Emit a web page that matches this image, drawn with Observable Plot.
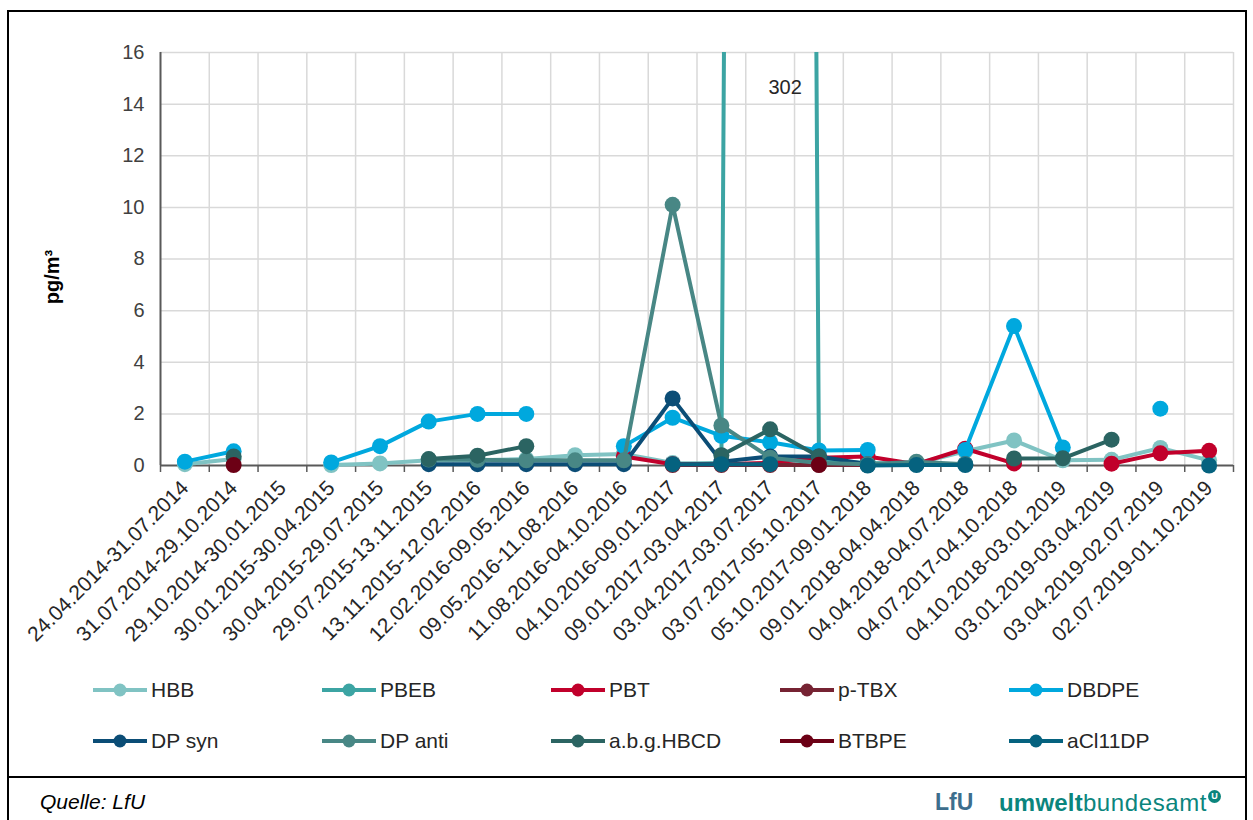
<!DOCTYPE html>
<html>
<head>
<meta charset="utf-8">
<script src="https://cdn.jsdelivr.net/npm/d3@7"></script>
<script src="https://cdn.jsdelivr.net/npm/@observablehq/plot@0.6"></script>
<style>
  html, body { margin: 0; padding: 0; background: #fff; }
  body { font-family: "Liberation Sans", Arial, sans-serif; }
  #wrap { position: relative; width: 1253px; height: 820px; overflow: hidden; }
  #frame { position: absolute; left: 7px; top: 10px; width: 1240px; height: 840px; border: 2px solid #000; box-sizing: border-box; }
  #divider { position: absolute; left: 7px; top: 776px; width: 1240px; height: 2px; background: #000; }
  #chart { position: absolute; left: 0; top: 0; }
  .item { position: absolute; display: flex; align-items: center; font-size: 21px; color: #262626; white-space: nowrap; }
  .item svg { margin-right: 3px; }
  #ylabel { position: absolute; left: 52px; top: 277px; transform: translate(-50%, -50%) rotate(-90deg); font-weight: bold; font-size: 20px; color: #000; white-space: nowrap; }
  #source { position: absolute; left: 40px; top: 790px; font-style: italic; font-size: 21px; color: #000; }
  #lfu { position: absolute; left: 935px; top: 789px; font-weight: bold; font-size: 23px; color: #3d6e8d; }
  #uba { position: absolute; left: 999px; top: 789px; font-size: 24px; color: #0b857d; }
  #uba b { font-weight: bold; letter-spacing: 0.2px; }
  #uba .light { letter-spacing: 0.6px; }
  #uba .logo { display: inline-block; width: 13px; height: 13px; border-radius: 50%; background: #0b857d; color: #fff; font-size: 9px; line-height: 13px; text-align: center; vertical-align: 12px; margin-left: 1px; font-weight: bold; letter-spacing: 0; }
</style>
</head>
<body>
<div id="wrap">
  <div id="frame"></div>
  <div id="divider"></div>
  <div id="chart"></div>
  <div id="ylabel">pg/m³</div>
  <div id="legend"></div>
  <div id="source">Quelle: LfU</div>
  <div id="lfu">LfU</div>
  <div id="uba"><b>umwelt</b><span class="light">bundesamt</span><span class="logo">U</span></div>
</div>
<script>
const categories = [
  "24.04.2014-31.07.2014", "31.07.2014-29.10.2014", "29.10.2014-30.01.2015",
  "30.01.2015-30.04.2015", "30.04.2015-29.07.2015", "29.07.2015-13.11.2015",
  "13.11.2015-12.02.2016", "12.02.2016-09.05.2016", "09.05.2016-11.08.2016",
  "11.08.2016-04.10.2016", "04.10.2016-09.01.2017", "09.01.2017-03.04.2017",
  "03.04.2017-03.07.2017", "03.07.2017-05.10.2017", "05.10.2017-09.01.2018",
  "09.01.2018-04.04.2018", "04.04.2018-04.07.2018", "04.07.2017-04.10.2018",
  "04.10.2018-03.01.2019", "03.01.2019-03.04.2019", "03.04.2019-02.07.2019",
  "02.07.2019-01.10.2019"
];
const n = null;
const hbb     = [0.05, 0.25, n, 0.02, 0.08, 0.2, 0.2, 0.25, 0.4, 0.45, 0.1, 0.05, 0.05, 0.05, 0.03, 0.08, 0.55, 0.97, 0.2, 0.22, 0.68, 0.2];
const pbeb    = [n, n, n, n, n, n, n, n, n, n, 0.05, 0.1, 302, 0.2, 0.1, 0.05, n, n, n, n, n, n];
const pbt     = [n, n, n, n, n, n, n, n, n, 0.35, 0.05, 0.05, 0.1, 0.3, 0.35, 0.05, 0.65, 0.08, n, 0.07, 0.47, 0.57];
const ptbx    = [n, n, n, n, n, n, n, n, n, n, 0.02, 0.02, 0.02, 0.02, 0.02, n, n, n, n, n, n, n];
const dbdpe   = [0.15, 0.55, n, 0.12, 0.75, 1.7, 2.0, 2.0, n, 0.75, 1.85, 1.15, 0.9, 0.58, 0.6, n, 0.6, 5.4, 0.7, n, 2.2, n];
const dpSyn   = [n, n, n, n, n, 0.05, 0.05, 0.05, 0.05, 0.05, 2.6, 0.15, 0.35, 0.35, 0.05, 0.05, 0.05, n, n, n, n, n];
const dpAnti  = [n, n, n, n, n, 0.23, 0.22, 0.2, 0.2, 0.2, 10.1, 1.55, 0.3, 0.1, 0.05, 0.15, 0.05, n, n, n, n, n];
const hbcd    = [n, 0.35, n, n, n, 0.25, 0.38, 0.75, n, n, n, 0.4, 1.4, 0.35, n, n, n, 0.27, 0.28, 1.0, n, n];
const btbpe   = [n, 0.02, n, n, n, n, n, n, n, n, n, n, n, 0.03, n, n, n, n, n, n, n, n];
const acl11dp = [n, n, n, n, n, n, n, n, n, n, 0.05, 0.05, 0.05, n, 0.0, 0.02, 0.02, n, n, n, n, 0.0];

const seriesNames = ["HBB", "PBEB", "PBT", "p-TBX", "DBDPE", "DP syn", "DP anti", "a.b.g.HBCD", "BTBPE", "aCl11DP"];
const seriesValues = [hbb, pbeb, pbt, ptbx, dbdpe, dpSyn, dpAnti, hbcd, btbpe, acl11dp];
const seriesColors = ["#80c3c3", "#3ca4a3", "#c1002b", "#762333", "#00a8de", "#0b4d76", "#488785", "#2b6462", "#6c0015", "#05627f"];
const yTicks = [0, 2, 4, 6, 8, 10, 12, 14, 16];
const yMax = 16;

const font = '"Liberation Sans", Arial, sans-serif';
const idx = d3.range(categories.length);
const boundaries = d3.range(categories.length + 1).map(i => i - 0.5);

const seriesMarks = [];
seriesNames.forEach((name, s) => {
  const data = seriesValues[s].map((v, i) => ({i, v}));
  const color = seriesColors[s];
  const overflow = d3.max(seriesValues[s]) > yMax;
  seriesMarks.push(Plot.line(data, {x: "i", y: "v", stroke: color, strokeWidth: 4, strokeLinejoin: "round", clip: overflow}));
  seriesMarks.push(Plot.dot(data.filter(d => d.v != null && d.v <= yMax), {x: "i", y: "v", r: 8, fill: color, stroke: "none"}));
});

const pbebPeakIndex = d3.maxIndex(pbeb);
const peakLabel = [{i: pbebPeakIndex, v: pbeb[pbebPeakIndex]}];

const chart = Plot.plot({
  width: 1253,
  height: 660,
  marginLeft: 160,
  marginRight: 20,
  marginTop: 52,
  marginBottom: 195,
  style: {fontFamily: font, background: "transparent", overflow: "visible"},
  x: {type: "linear", domain: [-0.5, categories.length - 0.5], label: null},
  y: {domain: [0, yMax], label: null},
  marks: [
    Plot.ruleY(yTicks.filter(t => t > 0), {stroke: "#d9d9d9", strokeWidth: 1.5}),
    Plot.ruleX(boundaries.slice(1), {y1: 0, y2: yMax, stroke: "#d9d9d9", strokeWidth: 1.5}),
    Plot.axisY(yTicks, {tickSize: 0, tickPadding: 16, fontSize: 20, color: "#404040", label: null}),
    Plot.axisX(boundaries, {tickSize: 7, tickFormat: () => "", stroke: "#595959", strokeWidth: 1.5, label: null}),
    Plot.axisX(idx, {tickSize: 0, tickPadding: 19, tickRotate: -45, tickFormat: i => categories[i], fontSize: 21, color: "#262626", label: null}),
    Plot.ruleX([boundaries[0]], {y1: 0, y2: yMax, stroke: "#595959", strokeWidth: 2}),
    Plot.ruleY([0], {stroke: "#595959", strokeWidth: 2}),
    ...seriesMarks,
    Plot.text(peakLabel, {x: "i", text: d => String(d.v), frameAnchor: "top", dx: 15, dy: 27, fontSize: 20, fill: "#262626"})
  ]
});
document.getElementById("chart").appendChild(chart);

// legend
const legend = document.getElementById("legend");
const rowsTop = [676, 727];
seriesNames.forEach((name, s) => {
  const row = Math.floor(s / 5), col = s % 5;
  const item = document.createElement("div");
  item.className = "item";
  item.style.left = (92 + col * 229) + "px";
  item.style.top = rowsTop[row] + "px";
  const c = seriesColors[s];
  item.innerHTML = `<svg width="56" height="28"><line x1="1" y1="14" x2="55" y2="14" stroke="${c}" stroke-width="4"/><circle cx="28" cy="14" r="6.5" fill="${c}"/></svg><span>${name}</span>`;
  legend.appendChild(item);
});
</script>
</body>
</html>
